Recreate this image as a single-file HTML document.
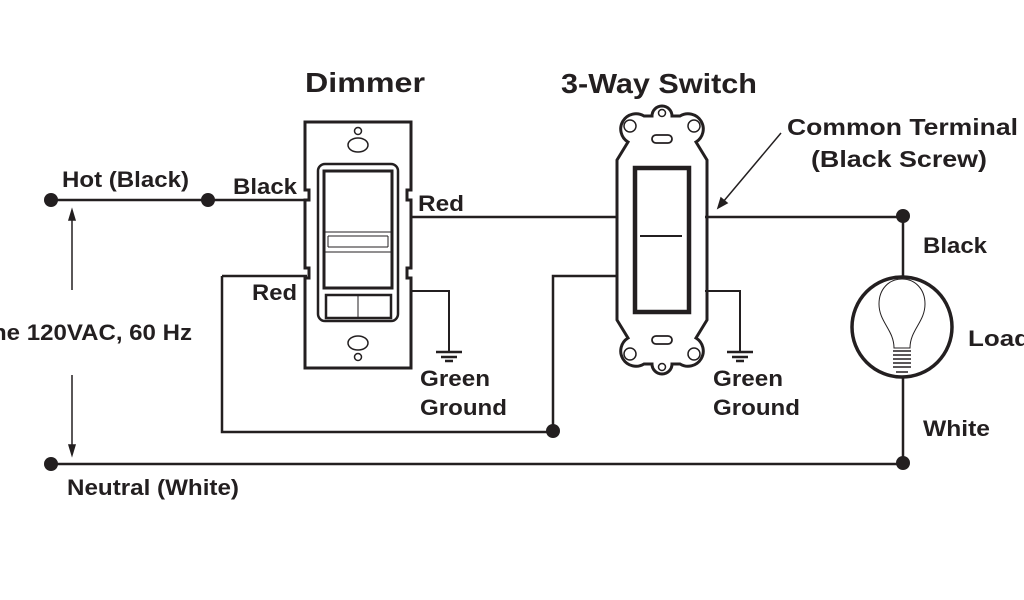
<!DOCTYPE html>
<html><head><meta charset="utf-8"><style>
html,body{margin:0;padding:0;background:#fff;}
svg{display:block}
text{font-family:"Liberation Sans",Arial,sans-serif;font-weight:bold;fill:#231f20}
</style></head><body>
<svg width="1024" height="600" viewBox="0 0 1024 600">
<g stroke="#231f20" fill="none" stroke-width="2.5">
<line x1="51" y1="200" x2="307" y2="200"/>
<line x1="222" y1="276" x2="307" y2="276"/>
<polyline points="222,276 222,432 553,432"/>
<line x1="51" y1="464" x2="903" y2="464"/>
<line x1="411" y1="217" x2="617" y2="217"/>
<polyline points="553,432 553,276 617,276"/>
<line x1="705" y1="217" x2="903" y2="217"/>
<line x1="903" y1="217" x2="903" y2="278"/>
<line x1="903" y1="376" x2="903" y2="464"/>
<polyline points="411,291 449,291 449,351" stroke-width="2"/>
<polyline points="705,291 740,291 740,351" stroke-width="2"/>
</g>
<g stroke="#231f20" stroke-width="2.5">
<line x1="436" y1="352" x2="462" y2="352"/><line x1="441" y1="357" x2="457" y2="357"/><line x1="445" y1="361" x2="453" y2="361"/>
<line x1="727" y1="352" x2="753" y2="352"/><line x1="732" y1="357" x2="748" y2="357"/><line x1="736" y1="361" x2="744" y2="361"/>
</g>
<g fill="#231f20">
<circle cx="51" cy="200" r="7"/><circle cx="208" cy="200" r="7"/>
<circle cx="51" cy="464" r="7"/><circle cx="553" cy="431" r="7"/>
<circle cx="903" cy="216" r="7"/><circle cx="903" cy="463" r="7"/>
</g>
<g stroke="#231f20" stroke-width="1.5" fill="#231f20">
<line x1="72" y1="218" x2="72" y2="290"/><polygon points="72,210 69,220 75,220" />
<line x1="72" y1="375" x2="72" y2="447"/><polygon points="72,455 69,445 75,445"/>
<line x1="781" y1="133" x2="723" y2="202"/><polygon points="718,208 721,198 727,203"/>
</g>
<g stroke="#231f20" fill="none">
<path d="M305,122 H411 V190 H407 V200 H411 V268 H407 V278 H411 V368 H305 V278 H309 V268 H305 V200 H309 V190 H305 Z" stroke-width="3"/>
<rect x="318" y="164" width="80" height="157" rx="7" stroke-width="2.5"/>
<rect x="324" y="171" width="68" height="117" stroke-width="3"/>
<path d="M324,232 H392 M328,236 H388 M328,247 H388 M324,252 H392 M328,236 L328,247 M388,236 L388,247" stroke-width="1"/>
<rect x="326" y="295" width="65" height="23" stroke-width="2.5"/>
<line x1="358" y1="295" x2="358" y2="318" stroke-width="1"/>
<ellipse cx="358" cy="145" rx="10" ry="7" stroke-width="1.5"/>
<circle cx="358" cy="131" r="3.5" stroke-width="1.5"/>
<ellipse cx="358" cy="343" rx="10" ry="7" stroke-width="1.5"/>
<circle cx="358" cy="357" r="3.5" stroke-width="1.5"/>
</g>
<g stroke="#231f20" fill="none">
<path d="M617,320 L617,160 L628,142 A14,14 0 1 1 644,116 L652,116 A10,10 0 0 1 672,116 L680,116 A14,14 0 1 1 696,142 L707,160 L707,320 L696,338 A14,14 0 1 1 680,364 L672,364 A10,10 0 0 1 652,364 L644,364 A14,14 0 1 1 628,338 Z" stroke-width="3"/>
<circle cx="630" cy="126" r="6" stroke-width="1.5"/><circle cx="694" cy="126" r="6" stroke-width="1.5"/>
<circle cx="662" cy="113" r="3.5" stroke-width="1.5"/>
<circle cx="630" cy="354" r="6" stroke-width="1.5"/><circle cx="694" cy="354" r="6" stroke-width="1.5"/>
<circle cx="662" cy="367" r="3.5" stroke-width="1.5"/>
<rect x="652" y="135" width="20" height="8" rx="4" stroke-width="1.8"/>
<rect x="652" y="336" width="20" height="8" rx="4" stroke-width="1.8"/>
<rect x="635" y="168" width="54" height="144" stroke-width="4.5"/>
<line x1="640" y1="236" x2="682" y2="236" stroke-width="2"/>
</g>
<g stroke="#231f20" fill="none">
<circle cx="902" cy="327" r="50" stroke-width="3.5"/>
<path d="M894,348 C894,330 879,322 879,304 C879,289 889,279 902,279 C915,279 925,289 925,304 C925,322 910,330 910,348 Z" stroke-width="1"/>
<path d="M893,351 H911 M893,355 H911 M893,359 H911 M893,363 H911 M893,367 H911 M896,372 H908" stroke-width="1.5"/>
</g>
<text x="305" y="92" font-size="28" textLength="120" lengthAdjust="spacingAndGlyphs">Dimmer</text>
<text x="561" y="93" font-size="28" textLength="196" lengthAdjust="spacingAndGlyphs">3-Way Switch</text>
<text x="787" y="135" font-size="23" textLength="231" lengthAdjust="spacingAndGlyphs">Common Terminal</text>
<text x="811" y="167" font-size="23" textLength="176" lengthAdjust="spacingAndGlyphs">(Black Screw)</text>
<text x="62" y="187" font-size="22" textLength="127" lengthAdjust="spacingAndGlyphs">Hot (Black)</text>
<text x="233" y="194" font-size="22" textLength="64" lengthAdjust="spacingAndGlyphs">Black</text>
<text x="418" y="211" font-size="22" textLength="46" lengthAdjust="spacingAndGlyphs">Red</text>
<text x="252" y="300" font-size="22" textLength="45" lengthAdjust="spacingAndGlyphs">Red</text>
<text x="-8" y="340" font-size="22" textLength="200" lengthAdjust="spacingAndGlyphs">ne 120VAC, 60 Hz</text>
<text x="420" y="386" font-size="22" textLength="70" lengthAdjust="spacingAndGlyphs">Green</text>
<text x="420" y="415" font-size="22" textLength="87" lengthAdjust="spacingAndGlyphs">Ground</text>
<text x="713" y="386" font-size="22" textLength="70" lengthAdjust="spacingAndGlyphs">Green</text>
<text x="713" y="415" font-size="22" textLength="87" lengthAdjust="spacingAndGlyphs">Ground</text>
<text x="923" y="253" font-size="22" textLength="64" lengthAdjust="spacingAndGlyphs">Black</text>
<text x="968" y="346" font-size="22" textLength="62" lengthAdjust="spacingAndGlyphs">Load</text>
<text x="923" y="436" font-size="22" textLength="67" lengthAdjust="spacingAndGlyphs">White</text>
<text x="67" y="495" font-size="22" textLength="172" lengthAdjust="spacingAndGlyphs">Neutral (White)</text>
</svg>
</body></html>
